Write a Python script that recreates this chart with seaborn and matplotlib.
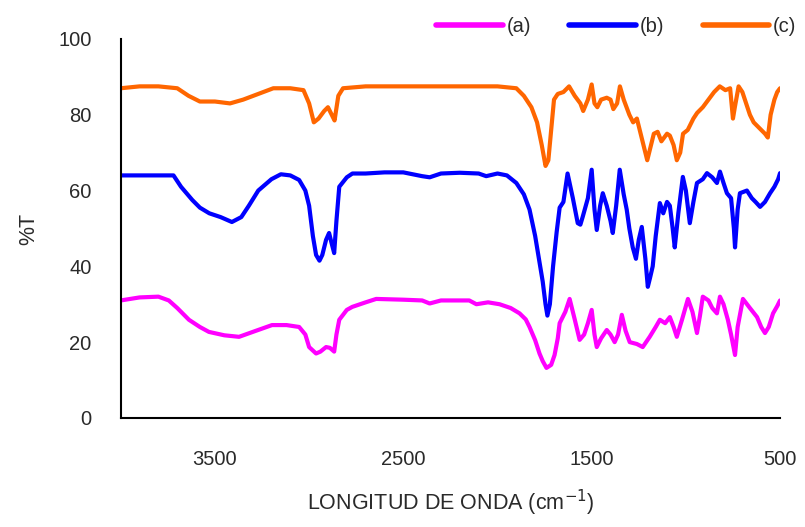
import numpy as np
import pandas as pd
import matplotlib
matplotlib.use("Agg")
import matplotlib.pyplot as plt
import seaborn as sns

# ---- data ----
wn_a = [4000, 3900, 3800, 3745, 3700, 3638, 3580, 3532, 3450, 3372, 3282, 3197, 3120, 3053, 3020, 3000,
        2963, 2940, 2910, 2890, 2867, 2855, 2840, 2800, 2771, 2700, 2644, 2500, 2400, 2360, 2300, 2200,
        2150, 2112, 2050, 1989, 1930, 1883, 1850, 1830, 1800, 1777, 1760, 1740, 1715, 1697, 1680, 1670,
        1640, 1617, 1590, 1564, 1540, 1520, 1500, 1485, 1473, 1450, 1420, 1400, 1378, 1360, 1340, 1320,
        1298, 1260, 1229, 1192, 1160, 1138, 1110, 1085, 1065, 1048, 1020, 989, 965, 941, 925, 910, 880,
        860, 835, 819, 800, 777, 760, 739, 725, 697, 660, 622, 600, 580, 560, 537, 515, 500]
t_a = [31, 31.8, 32, 31, 29, 25.9, 24, 22.7, 21.8, 21.4, 23, 24.5, 24.5, 24, 22, 18.7,
       17, 17.5, 18.7, 18.5, 17.5, 22, 25.9, 28.5, 29.3, 30.5, 31.4, 31.2, 31, 30.2, 31, 31,
       31, 30, 30.5, 30, 29, 27.6, 26, 24, 20.5, 17, 15, 13.2, 14, 16.6, 21, 25,
       28, 31.4, 26, 20.6, 22, 25, 28.5, 22, 18.7, 21, 23.2, 22, 20, 22, 27.2, 23,
       20, 19.5, 18.7, 21.4, 24, 25.9, 25, 26.6, 24, 21.4, 26, 31.4, 28, 22.4, 27, 32, 31,
       29, 27.6, 32, 30, 25.9, 22, 16.6, 24, 31.4, 29, 26.6, 24, 22.4, 24, 27.6, 29.5, 31]

wn_b = [4000, 3900, 3800, 3720, 3680, 3620, 3580, 3530, 3470, 3410, 3360, 3320, 3270, 3200, 3150, 3100,
        3053, 3020, 3000, 2980, 2963, 2945, 2930, 2910, 2894, 2880, 2867, 2855, 2840, 2800, 2770, 2700,
        2600, 2500, 2400, 2360, 2300, 2200, 2100, 2060, 2000, 1950, 1900, 1860, 1830, 1800, 1780, 1760,
        1745, 1735, 1722, 1705, 1686, 1670, 1650, 1628, 1600, 1574, 1560, 1548, 1520, 1500, 1485, 1473,
        1455, 1441, 1420, 1400, 1388, 1370, 1351, 1330, 1314, 1300, 1282, 1265, 1250, 1234, 1215, 1202,
        1190, 1176, 1160, 1138, 1120, 1100, 1085, 1070, 1059, 1040, 1016, 1000, 979, 960, 941, 910, 888,
        860, 835, 819, 800, 782, 760, 745, 739, 725, 713, 676, 650, 630, 606, 580, 553, 530, 510, 500]
t_b = [64, 64, 64, 64, 61, 57.5, 55.5, 54, 53, 51.7, 53, 56, 60, 63, 64.3, 64,
       62.8, 60, 56, 48, 43, 41.5, 43, 47, 48.8, 46, 43.5, 52, 61, 63.5, 64.5, 64.5,
       64.8, 64.8, 63.8, 63.5, 64.5, 64.7, 64.5, 63.8, 64.5, 64, 62, 59, 55, 48, 42, 36,
       30, 27, 30, 40, 49, 55.5, 57, 64.5, 58, 51.4, 51, 53, 58, 65.5, 55, 49.6,
       56, 59.3, 56, 52, 48.8, 56, 65.5, 59, 55, 50, 45, 42, 47, 50.4, 42, 34.6,
       37, 40, 48, 56.7, 54, 57, 56, 50, 45, 54, 63.6, 60, 51.4, 57, 62, 63, 64.6,
       63.5, 62, 65, 62, 59.3, 58, 50, 45, 55, 59.3, 60, 58, 57, 55.7, 57, 59.3, 61, 63, 64.6]

wn_c = [4000, 3900, 3800, 3700, 3640, 3580, 3500, 3420, 3350, 3270, 3190, 3100, 3030, 3000, 2975, 2950,
        2920, 2900, 2880, 2865, 2845, 2820, 2700, 2500, 2300, 2100, 2000, 1900, 1860, 1820, 1790, 1765,
        1745, 1730, 1715, 1700, 1680, 1650, 1620, 1590, 1560, 1545, 1520, 1500, 1485, 1470, 1450, 1420,
        1400, 1385, 1365, 1350, 1330, 1300, 1280, 1260, 1240, 1220, 1205, 1190, 1170, 1150, 1130, 1115,
        1100, 1085, 1065, 1048, 1030, 1015, 990, 960, 940, 910, 880, 850, 820, 790, 765, 750, 740, 720,
        700, 680, 660, 640, 620, 600, 580, 565, 550, 530, 515, 500]
t_c = [87, 87.5, 87.5, 87, 85, 83.5, 83.5, 83, 84, 85.5, 87, 87, 86.5, 83, 78, 79,
       81, 82, 80, 78.5, 85, 87, 87.5, 87.5, 87.5, 87.5, 87.5, 87, 85, 82, 78, 72,
       66.5, 68, 76, 84, 85.5, 86, 87.5, 85, 83, 81, 84, 88, 83, 82, 84, 84.5,
       84, 81.5, 83, 87.5, 84, 80, 78, 79, 75, 71, 68, 71, 75, 75.5, 73, 74,
       75, 74.5, 72, 68, 70, 75, 76, 79, 80.5, 82, 84, 86, 87.5, 86.5, 87, 79, 82, 87.5,
       86, 83, 80, 78, 77, 76, 75, 74, 80, 84, 86, 87]

labels = ["(a)", "(b)", "(c)"]
colors = ["#FF00FF", "#0000FF", "#FF6600"]

df = pd.concat([
    pd.DataFrame({"wn": wn_a, "T": t_a, "serie": labels[0]}),
    pd.DataFrame({"wn": wn_b, "T": t_b, "serie": labels[1]}),
    pd.DataFrame({"wn": wn_c, "T": t_c, "serie": labels[2]}),
], ignore_index=True)

sns.set_style("white")
plt.rcParams["font.family"] = ["Liberation Sans", "DejaVu Sans"]

fig = plt.figure(figsize=(8.05, 5.27), dpi=100)
ax = fig.add_axes([0.150, 0.207, 0.819, 0.719])

sns.lineplot(data=df, x="wn", y="T", hue="serie", palette=dict(zip(labels, colors)),
             sort=False, estimator=None, linewidth=3.0, ax=ax, legend=True)

ax.set_xlim(4000, 500)
ax.set_ylim(0, 100)
ax.set_xticks([3500, 2500, 1500, 500])
ax.set_yticks([0, 20, 40, 60, 80, 100])
ax.tick_params(axis="x", direction="out", length=7, width=1.5, colors="black",
               labelsize=14.5, labelcolor="#2a2a2a", pad=16)
ax.tick_params(axis="y", direction="in", length=7, width=1.5, colors="black",
               labelsize=14.5, labelcolor="#2a2a2a", pad=21)
for s in ["top", "right"]:
    ax.spines[s].set_visible(False)
for s in ["left", "bottom"]:
    ax.spines[s].set_color("black")
    ax.spines[s].set_linewidth(1.5)

ax.set_xlabel("LONGITUD DE ONDA (cm$^{-1}$)", fontsize=15.5, color="#2a2a2a", labelpad=14)
ax.set_ylabel("%T", fontsize=15.5, color="#2a2a2a", labelpad=14)

leg = ax.legend(loc="center right", bbox_to_anchor=(1.025, 1.032), ncol=3, frameon=False,
                fontsize=14.5, handlelength=3.3, handletextpad=0.2, columnspacing=1.9,
                borderaxespad=0.0, borderpad=0.0)
for line in leg.get_lines():
    line.set_linewidth(4)
for t in leg.get_texts():
    t.set_color("#2a2a2a")

fig.savefig("out.png", dpi=100)
